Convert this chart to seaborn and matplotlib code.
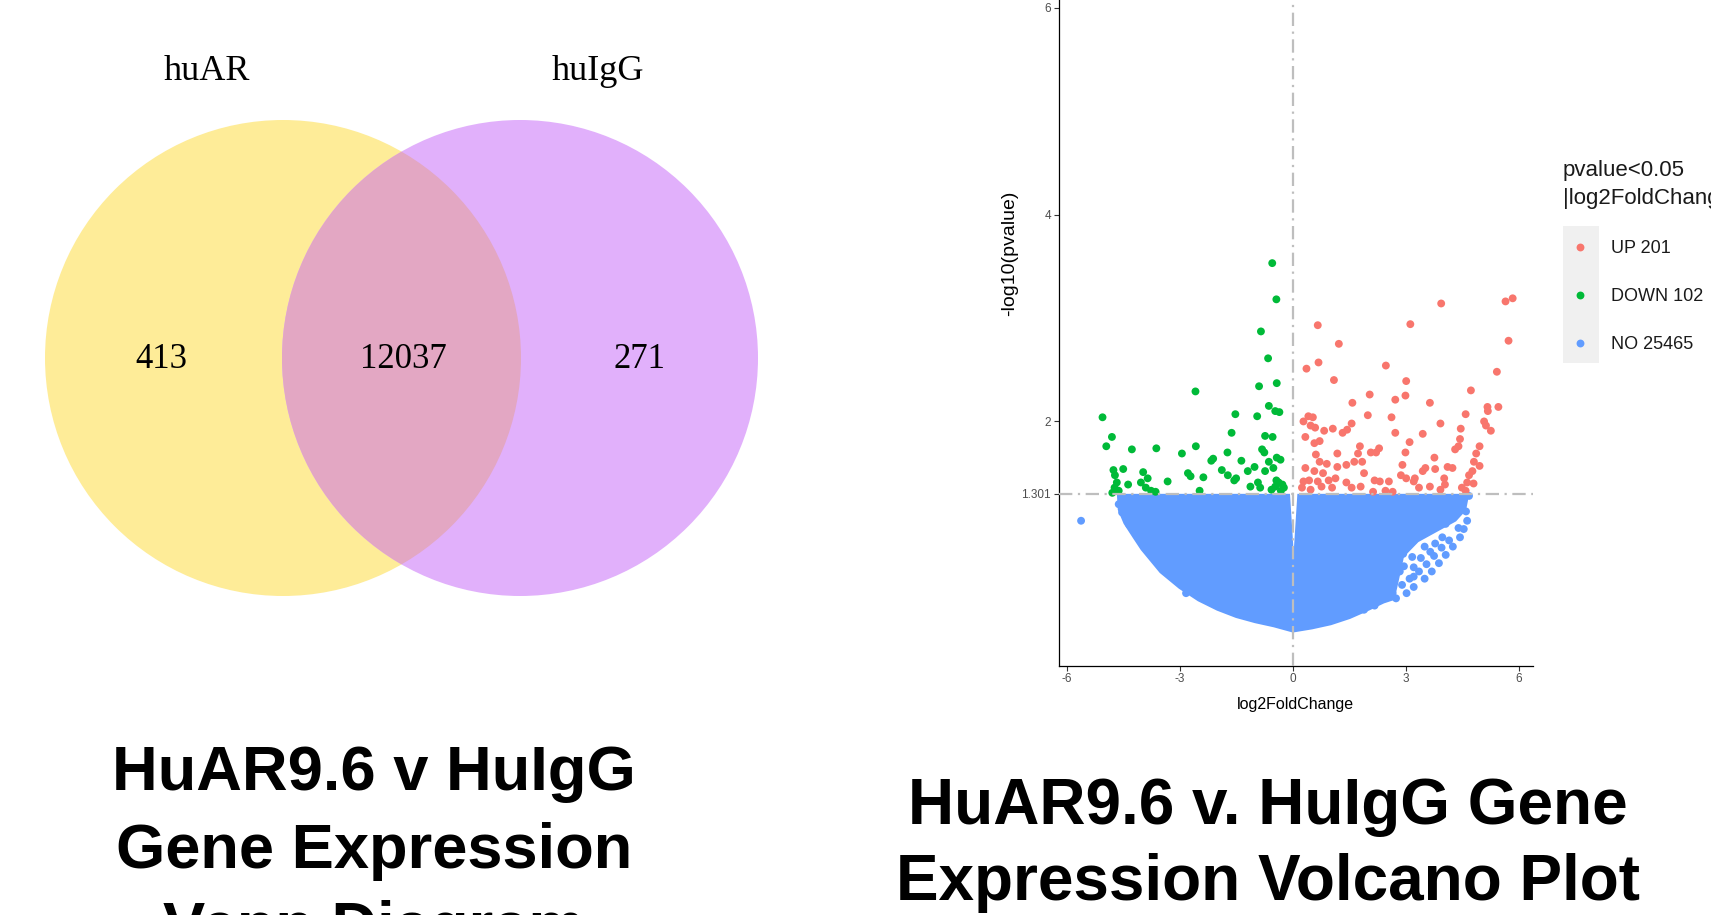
import numpy as np
import pandas as pd
import matplotlib
matplotlib.use("Agg")
import matplotlib.pyplot as plt
import seaborn as sns
from matplotlib.patches import Circle, Rectangle

sns.set_theme(style="ticks")
plt.rcParams['font.family'] = ['Liberation Sans', 'DejaVu Sans']

# ---------------- Venn data ----------------
venn_sets = ["huAR", "huIgG"]
venn_counts = [413, 12037, 271]          # huAR only, shared, huIgG only
venn_colors = ["#FEEC98", "#E3A7C3", "#E1B0FB"]   # huAR, overlap, huIgG

# ---------------- Volcano data ----------------
down_x = [-0.55, -0.44, -0.85, -0.66, -0.90, -0.43, -2.59, -5.06, -1.53, -0.95, -0.64, -0.47, -0.36,
          -4.81, -4.96, -4.28, -3.63, -2.58, -2.95, -1.63, -0.74, -0.54, -1.74, -2.12, -2.17, -1.37,
          -0.82, -0.76, -0.43, -0.33, -0.64, -0.52, -1.02, -1.20, -0.74, -1.89, -1.73, -1.51, -1.56,
          -2.79, -2.72, -2.38, -3.33, -2.48, -4.77, -4.51, -4.73, -4.68, -4.74, -4.63, -4.38, -3.98,
          -3.86, -4.04, -3.91, -3.77, -3.65, -4.80, -1.13, -0.93, -0.87, -0.44, -0.38, -0.28, -0.47,
          -0.24, -0.32, -0.57]
down_y = [3.53, 3.18, 2.87, 2.61, 2.34, 2.37, 2.29, 2.04, 2.07, 2.05, 2.15, 2.10, 2.09,
          1.85, 1.76, 1.73, 1.74, 1.76, 1.69, 1.89, 1.86, 1.85, 1.70, 1.64, 1.62, 1.62,
          1.73, 1.70, 1.65, 1.63, 1.61, 1.55, 1.56, 1.52, 1.52, 1.53, 1.48, 1.45, 1.43,
          1.50, 1.47, 1.46, 1.42, 1.33, 1.53, 1.54, 1.48, 1.41, 1.36, 1.33, 1.39, 1.51,
          1.45, 1.41, 1.36, 1.33, 1.32, 1.31, 1.37, 1.41, 1.36, 1.43, 1.41, 1.39, 1.37,
          1.36, 1.33, 1.34]

up_x = [3.94, 5.65, 5.84, 5.73, 0.66, 3.12, 1.22, 0.68, 0.36, 2.47, 1.09, 3.01, 5.42, 2.04, 2.99,
        2.72, 4.73, 1.58, 3.64, 5.17, 5.46, 5.18, 4.59, 1.99, 2.62, 3.92, 5.08, 5.13, 5.26, 4.46,
        0.41, 0.53, 0.28, 0.47, 0.59, 0.83, 1.06, 1.32, 1.56, 1.44, 2.72, 3.45, 3.10, 4.44, 4.40,
        4.31, 4.96, 4.87, 0.33, 0.57, 0.71, 0.61, 1.18, 1.78, 1.73, 2.07, 2.29, 2.21, 2.99, 3.76,
        4.24, 4.81, 4.77, 4.96, 0.71, 0.90, 1.63, 1.84, 1.42, 1.18, 2.91, 3.24, 3.45, 3.52, 3.78,
        4.11, 4.02, 4.68, 4.63, 4.80, 0.33, 0.57, 0.80, 0.28, 0.43, 0.66, 0.95, 1.13, 1.89, 2.17,
        2.31, 2.55, 2.87, 3.01, 3.21, 0.24, 0.47, 0.76, 1.04, 1.42, 1.56, 1.80, 2.13, 2.46, 2.65,
        3.35, 3.64, 3.92, 4.04, 4.49, 4.59]
up_y = [3.14, 3.16, 3.19, 2.78, 2.93, 2.94, 2.75, 2.57, 2.51, 2.54, 2.40, 2.39, 2.48, 2.26, 2.25,
        2.21, 2.30, 2.18, 2.18, 2.14, 2.14, 2.10, 2.07, 2.06, 2.04, 1.98, 2.00, 1.96, 1.91, 1.93,
        2.05, 2.04, 2.00, 1.96, 1.94, 1.91, 1.93, 1.89, 1.98, 1.92, 1.89, 1.88, 1.80, 1.83, 1.76,
        1.73, 1.76, 1.69, 1.85, 1.79, 1.81, 1.68, 1.69, 1.76, 1.69, 1.70, 1.74, 1.70, 1.70, 1.65,
        1.55, 1.61, 1.52, 1.57, 1.61, 1.59, 1.61, 1.61, 1.58, 1.56, 1.58, 1.45, 1.52, 1.55, 1.54,
        1.56, 1.45, 1.48, 1.41, 1.40, 1.55, 1.52, 1.50, 1.42, 1.43, 1.42, 1.43, 1.45, 1.50, 1.43,
        1.42, 1.42, 1.48, 1.45, 1.42, 1.36, 1.34, 1.37, 1.36, 1.41, 1.36, 1.37, 1.32, 1.33, 1.32,
        1.36, 1.37, 1.34, 1.39, 1.36, 1.33]

# scattered non-significant genes at the edge of the dense cloud
no_x = [4.63, 4.54, 4.44, 4.25, 4.06, 3.88, 3.69, 3.50, 3.21, 3.02, 2.74, 2.65, 3.21, 3.21, 3.17,
        3.21, 3.02, 3.26, 3.59, 3.73, 3.88, 4.06, 4.21, 4.35, 4.49, 3.50, 3.78, 3.97, 3.45, 2.84,
        2.93, 2.84, 2.46, 2.17, 1.89, -5.63, -4.63, -4.54, -4.35, -3.88, -3.21, -3.12, -2.84,
        -2.60, -2.17, -2.08, -1.51, -1.13, -2.84, 4.68, 4.60, 4.40, 4.15, 3.95, 3.75, 3.55, 3.35,
        3.10, 2.95, 3.40, 3.65, 3.05, 2.90]
no_y = [1.04, 0.96, 0.88, 0.79, 0.71, 0.63, 0.55, 0.48, 0.40, 0.34, 0.29, 0.34, 0.50, 0.59, 0.69,
        0.85, 1.03, 1.25, 1.08, 1.20, 1.25, 1.01, 1.11, 1.20, 1.25, 0.79, 0.82, 0.88, 0.95, 1.14,
        0.72, 0.55, 0.47, 0.22, 0.18, 1.04, 1.20, 1.12, 1.00, 1.17, 1.24, 1.06, 1.03,
        1.17, 0.88, 1.24, 1.17, 1.01, 0.34, 1.28, 1.13, 0.97, 0.85, 0.78, 0.70, 0.62, 0.55,
        0.48, 0.60, 0.68, 0.74, 0.90, 0.42]

# outline of the dense cloud of ~25000 non-significant genes
cloud_x = [-4.62, -4.60, -4.45, -4.20, -4.00, -3.50, -3.00, -2.50, -2.00, -1.50, -1.00, -0.50,
           0.00, 0.50, 1.00, 1.50, 2.00, 2.40, 2.65, 2.75, 2.90, 3.30, 3.80, 4.30, 4.55, 4.62,
           0.17, 0.02, -0.13]
cloud_y = [1.28, 1.15, 1.02, 0.88, 0.77, 0.55, 0.40, 0.28, 0.19, 0.12, 0.07, 0.03,
           -0.02, 0.01, 0.05, 0.11, 0.19, 0.26, 0.29, 0.45, 0.70, 0.85, 0.95, 1.05, 1.15, 1.28,
           1.28, 0.42, 1.28]

groups = ["UP 201", "DOWN 102", "NO 25465"]
group_colors = ["#F8766D", "#00BA38", "#619CFF"]
p_threshold = 1.301
x_ticks = [-6, -3, 0, 3, 6]
y_ticks = [1.301, 2, 4, 6]
y_tick_labels = ["1.301", "2", "4", "6"]

left_title = ["HuAR9.6 v HuIgG", "Gene Expression", "Venn Diagram"]
right_title = ["HuAR9.6 v. HuIgG Gene", "Expression Volcano Plot"]

# ---------------- Figure ----------------
W, H = 1711, 915
fig = plt.figure(figsize=(W / 100, H / 100), dpi=100)

# Venn panel in pixel coordinates
ax_v = fig.add_axes([0, 0, 1, 1])
ax_v.set_xlim(0, W)
ax_v.set_ylim(H, 0)
ax_v.axis("off")
r = 238
c_left = (283, 358)
c_right = (520, 358)
circ_a = Circle(c_left, r, fc=venn_colors[0], ec="none")
circ_b = Circle(c_right, r, fc=venn_colors[2], ec="none")
circ_ab = Circle(c_right, r, fc=venn_colors[1], ec="none")
ax_v.add_patch(circ_a)
ax_v.add_patch(circ_b)
ax_v.add_patch(circ_ab)
circ_ab.set_clip_path(circ_a)

serif = ["Liberation Serif", "DejaVu Serif"]
ax_v.text(207, 71, venn_sets[0], family=serif, fontsize=26, ha="center", va="center", color="black")
ax_v.text(598, 71, venn_sets[1], family=serif, fontsize=26, ha="center", va="center", color="black")
for xpos, cnt in zip([161, 403, 640], venn_counts):
    ax_v.text(xpos, 359, f"{cnt}", family=serif, fontsize=25, ha="center", va="center", color="black")

# titles
for i, line in enumerate(left_title):
    fig.text(374 / W, 1 - (790 + 78 * i) / H, line, ha="center", va="baseline",
             fontsize=45.5, fontweight="bold", color="black")
for i, line in enumerate(right_title):
    fig.text(1268 / W, 1 - (824 + 76 * i) / H, line, ha="center", va="baseline",
             fontsize=46, fontweight="bold", color="black")

# Volcano panel (its top runs past the top edge of the picture, as in the reference)
ax_l, ax_r, ax_b, ax_t = 1058.5, 1533.0, 665.6, -159.0
ax = fig.add_axes([ax_l / W, (H - ax_b) / H, (ax_r - ax_l) / W, (ax_b - ax_t) / H])
ax.set_facecolor("white")

df = pd.concat([
    pd.DataFrame({"log2FoldChange": no_x, "nlogp": no_y, "group": groups[2]}),
    pd.DataFrame({"log2FoldChange": up_x, "nlogp": up_y, "group": groups[0]}),
    pd.DataFrame({"log2FoldChange": down_x, "nlogp": down_y, "group": groups[1]}),
], ignore_index=True)

ax.fill(cloud_x, cloud_y, fc=group_colors[2], ec=group_colors[2], lw=3, zorder=1)
sns.scatterplot(data=df, x="log2FoldChange", y="nlogp", hue="group", hue_order=groups,
                palette=dict(zip(groups, group_colors)), s=32, linewidth=0, ax=ax, zorder=2)
ax.axhline(p_threshold, color="#BEBEBE", lw=1.6, dashes=(6, 2.5, 1, 2.5), zorder=3)
ax.axvline(0, color="#BEBEBE", lw=1.6, dashes=(6, 2.5, 1, 2.5), zorder=3)

sns.despine(ax=ax)
for s in ["left", "bottom"]:
    ax.spines[s].set_color("black")
    ax.spines[s].set_linewidth(0.9)
ax.set_xlim(-6.23, 6.38)
ax.set_ylim(-0.36, 7.61)
ax.set_xticks(x_ticks)
ax.set_xticklabels([str(t) for t in x_ticks])
ax.set_yticks(y_ticks)
ax.set_yticklabels(y_tick_labels)
ax.tick_params(labelsize=8.5, labelcolor="#4D4D4D", color="#333333", length=3.5, width=0.8, pad=2)
ax.set_xlabel("log2FoldChange", fontsize=11.5, color="black", labelpad=8.5)
ax.set_ylabel("-log10(pvalue)", fontsize=14, color="black", labelpad=2)

leg = ax.legend(title="pvalue<0.05\n|log2FoldChange|>1", loc="upper left",
                bbox_to_anchor=(1562.6 / W, 1 - 160 / H), bbox_transform=fig.transFigure,
                frameon=False, fontsize=13, title_fontsize=16, borderpad=0, borderaxespad=0,
                handlelength=1.95, handletextpad=0.75, labelspacing=1.72, alignment="left")
for t in leg.get_texts():
    t.set_color("#1A1A1A")
leg.get_title().set_color("#1A1A1A")
leg.get_title().set_linespacing(1.45)

fig.patches.append(Rectangle((1562.6, H - 363), 36, 137, transform=None,
                             fc="#F0F0F0", ec="none", zorder=-1))

fig.savefig("out.png", dpi=100)
